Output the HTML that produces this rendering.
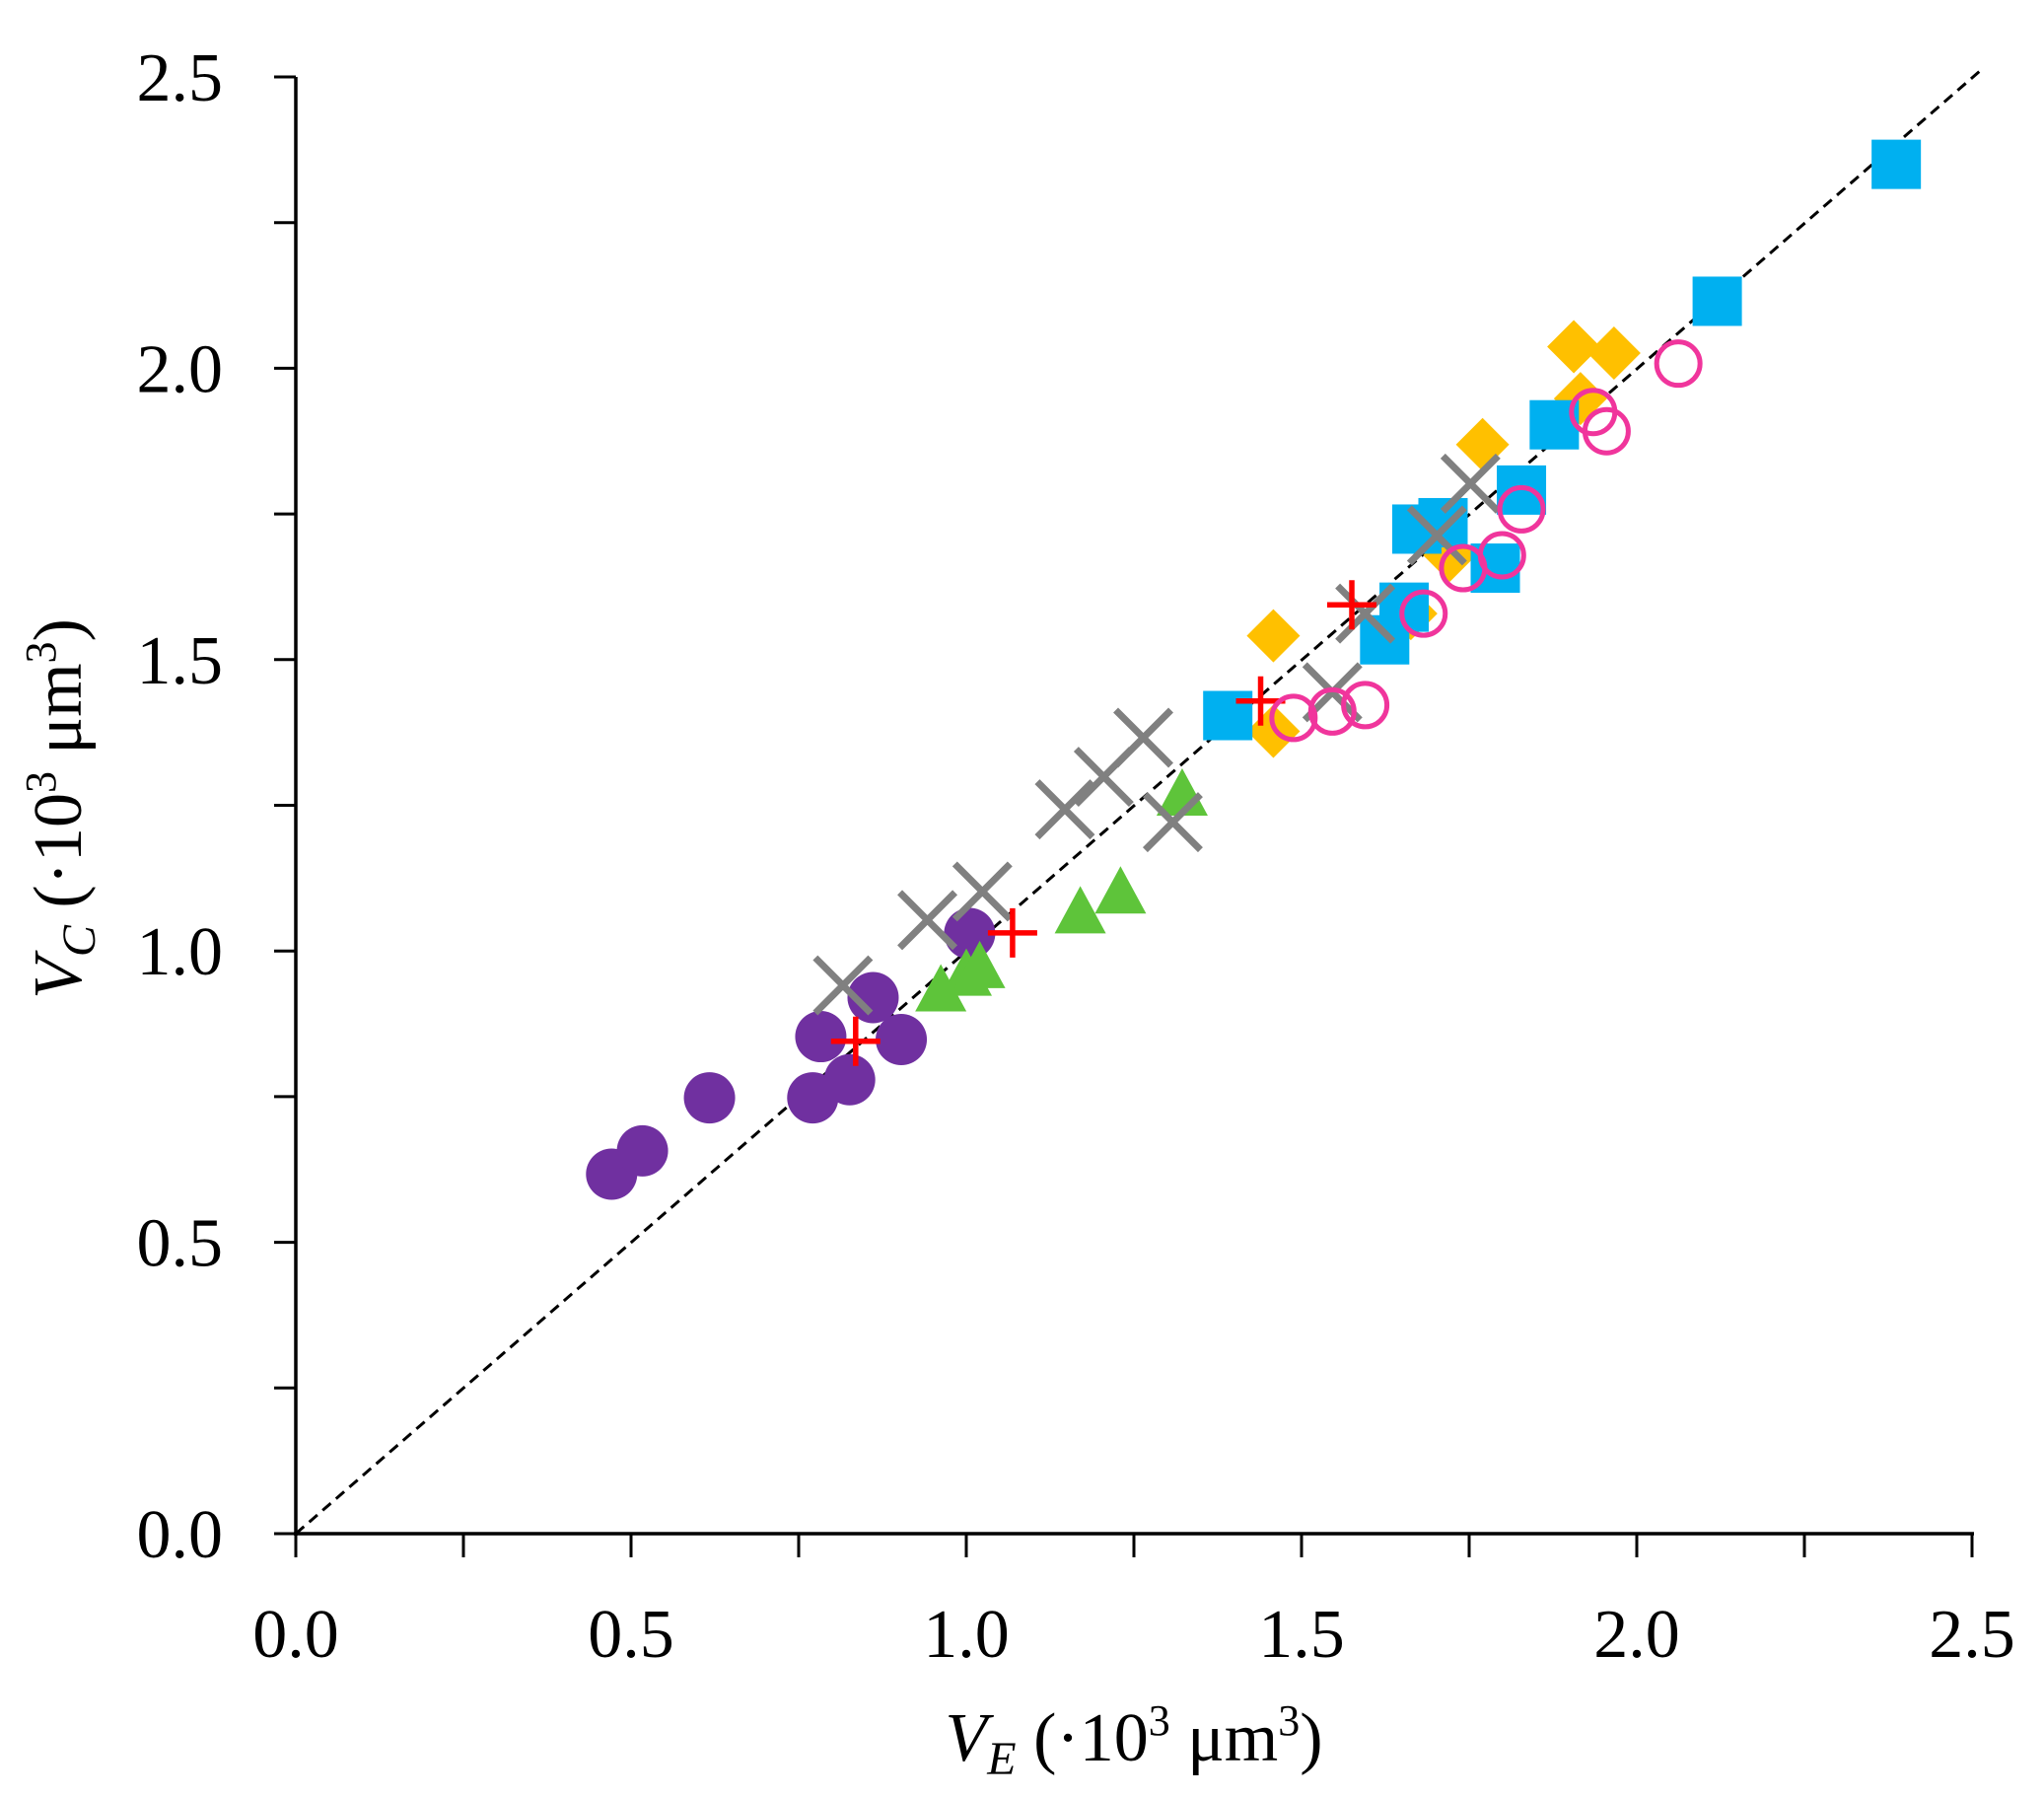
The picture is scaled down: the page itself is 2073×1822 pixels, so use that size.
<!DOCTYPE html>
<html><head><meta charset="utf-8"><style>
html,body{margin:0;padding:0;background:#fff;}
svg{display:block;font-family:"Liberation Serif",serif;}
</style></head><body>
<svg id="chart" width="2073" height="1822" viewBox="0 0 2073 1822" xmlns="http://www.w3.org/2000/svg">
<g id="axes"></g>
<g id="marks"></g>
<text x="1150" y="1785" text-anchor="middle" font-size="70"><tspan font-style="italic">V</tspan><tspan font-style="italic" font-size="48" dy="14">E</tspan><tspan dy="-14"> (·10</tspan><tspan font-size="44" dy="-26">3</tspan><tspan dy="26"> μm</tspan><tspan font-size="44" dy="-26">3</tspan><tspan dy="26">)</tspan></text>
<text transform="translate(82,820) rotate(-90)" text-anchor="middle" font-size="70"><tspan font-style="italic">V</tspan><tspan font-style="italic" font-size="48" dy="14">C</tspan><tspan dy="-14"> (·10</tspan><tspan font-size="44" dy="-26">3</tspan><tspan dy="26"> μm</tspan><tspan font-size="44" dy="-26">3</tspan><tspan dy="26">)</tspan></text>
</svg>
<script>
const xTicks = [0.0, 0.5, 1.0, 1.5, 2.0, 2.5];
const yTicks = [0.0, 0.5, 1.0, 1.5, 2.0, 2.5];
const xTickLabels = ["0.0","0.5","1.0","1.5","2.0","2.5"];
const yTickLabels = ["0.0","0.5","1.0","1.5","2.0","2.5"];
const purpleX = [0.471,0.517,0.617,0.771,0.783,0.826,0.861,0.903,1.005];
const purpleY = [0.617,0.657,0.748,0.748,0.853,0.779,0.920,0.848,1.030];
const greenX = [0.962,1.000,1.020,1.170,1.230,1.322];
const greenY = [0.930,0.957,0.970,1.064,1.098,1.266];
const redX = [0.835,1.069,1.439,1.575];
const redY = [0.845,1.031,1.429,1.594];
const grayX = [0.816,0.942,1.024,1.147,1.205,1.264,1.308,1.546,1.595,1.702,1.752];
const grayY = [0.941,1.053,1.102,1.243,1.299,1.366,1.221,1.444,1.579,1.713,1.802];
const orangeX = [1.458,1.458,1.663,1.721,1.770,1.906,1.966,1.916];
const orangeY = [1.541,1.377,1.579,1.679,1.869,2.037,2.026,1.948];
const blueX = [1.390,1.624,1.653,1.672,1.711,1.789,1.828,1.877,2.120,2.387];
const blueY = [1.404,1.534,1.590,1.724,1.735,1.657,1.791,1.903,2.115,2.350];
const pinkX = [1.488,1.546,1.595,1.682,1.741,1.799,1.828,1.935,1.955,2.062];
const pinkY = [1.400,1.411,1.422,1.579,1.657,1.679,1.758,1.925,1.892,2.008];

const NS="http://www.w3.org/2000/svg";
const X0=300,X1=2000,Y0=1555,Y1=78;
function sx(v){return X0+(v/2.5)*(X1-X0);}
function sy(v){return Y0-(v/2.5)*(Y0-Y1);}
function mk(tag,attrs,parent){const e=document.createElementNS(NS,tag);for(const k in attrs)e.setAttribute(k,attrs[k]);parent.appendChild(e);return e;}
const axes=document.getElementById('axes');
const marks=document.getElementById('marks');

let l=mk('line',{x1:sx(0),y1:sy(0),x2:sx(2.5)+8,y2:sy(2.5)-6,stroke:'#000','stroke-width':3,'stroke-dasharray':'11 7'},axes);


l=mk('line',{x1:X0,y1:Y1,x2:X0,y2:Y0+2,stroke:'#000','stroke-width':3.5},axes);


l=mk('line',{x1:X0-2,y1:Y0,x2:X1+2,y2:Y0,stroke:'#000','stroke-width':3.5},axes);


for(let i=0;i<=10;i++){
  const v=i*0.25;
  let t=mk('line',{x1:sx(v),y1:Y0,x2:sx(v),y2:Y0+24,stroke:'#000','stroke-width':3},axes);
  
  
  t=mk('line',{x1:X0-22,y1:sy(v),x2:X0,y2:sy(v),stroke:'#000','stroke-width':3},axes);
  
  
}
xTicks.forEach((v,i)=>{
  const t=mk('text',{x:sx(v),y:1680,'text-anchor':'middle','font-size':70},axes);
  t.textContent=xTickLabels[i];
  
  
});
yTicks.forEach((v,i)=>{
  const t=mk('text',{x:226,y:sy(v)+24,'text-anchor':'end','font-size':70},axes);
  t.textContent=yTickLabels[i];
  
  
});

function series(xs,ys,name,draw){
  const g=mk('g',{},marks);
  
  
  xs.forEach((x,i)=>{const e=draw(g,sx(x),sy(ys[i]));
    
    });
}
series(purpleX,purpleY,'purple-circle-series',(g,x,y)=>mk('circle',{cx:x,cy:y,r:26,fill:'#7030a0'},g));
series(greenX,greenY,'green-triangle-series',(g,x,y)=>mk('polygon',{points:`${x},${y-28} ${x-26},${y+20} ${x+26},${y+20}`,fill:'#5ec43a'},g));
series(orangeX,orangeY,'orange-diamond-series',(g,x,y)=>mk('polygon',{points:`${x},${y-27} ${x+27},${y} ${x},${y+27} ${x-27},${y}`,fill:'#ffc000'},g));
series(blueX,blueY,'blue-square-series',(g,x,y)=>mk('rect',{x:x-25,y:y-25,width:50,height:50,fill:'#00b0f0'},g));
series(grayX,grayY,'gray-x-series',(g,x,y)=>mk('path',{d:`M${x-28},${y-28}L${x+28},${y+28}M${x-28},${y+28}L${x+28},${y-28}`,stroke:'#808080','stroke-width':7,fill:'none'},g));
series(redX,redY,'red-plus-series',(g,x,y)=>mk('path',{d:`M${x-25},${y}L${x+25},${y}M${x},${y-25}L${x},${y+25}`,stroke:'#ff0000','stroke-width':5.5,fill:'none'},g));
series(pinkX,pinkY,'pink-open-circle-series',(g,x,y)=>mk('circle',{cx:x,cy:y,r:22,fill:'none',stroke:'#f0359c','stroke-width':5},g));
</script>
</body></html>
